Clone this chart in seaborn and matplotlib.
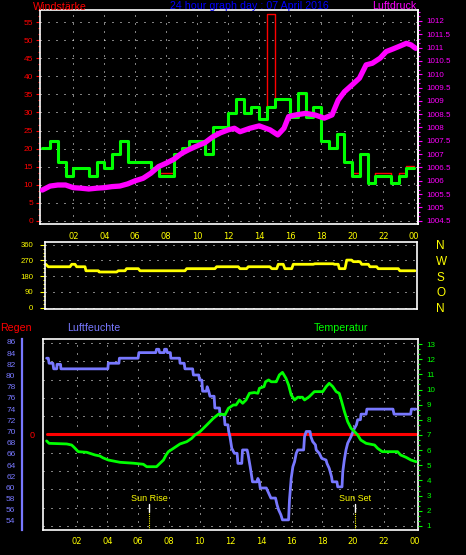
import numpy as np
import pandas as pd
import matplotlib
matplotlib.use("Agg")
import matplotlib.pyplot as plt
import seaborn as sns
from matplotlib.ticker import MultipleLocator, AutoMinorLocator, FixedLocator

# ---------------- data ----------------
hour_ticks = [2, 4, 6, 8, 10, 12, 14, 16, 18, 20, 22, 24]
hour_labels = ["02", "04", "06", "08", "10", "12", "14", "16", "18", "20", "22", "00"]

# wind speed, half-hour steps (last value repeated to close the final step)
wind_hours = [i * 0.5 for i in range(49)]
wind_avg = [20.2, 22.2, 16.3, 12.5, 14.5, 14.5, 12.5, 16.3, 14.5, 18.4,
            22.2, 16.3, 16.3, 16.3, 14.5, 12.5, 12.5, 18.4, 20.2, 22.2,
            22.2, 18.4, 26.0, 26.0, 29.8, 33.6, 29.8, 31.6, 28.1, 31.6,
            33.6, 33.6, 28.8, 35.5, 28.8, 31.6, 22.2, 20.2, 24.0, 16.3,
            12.5, 18.4, 10.5, 12.5, 12.5, 10.5, 12.5, 14.5, 14.5]
wind_gust = [20.2, 22.2, 16.3, 12.5, 14.5, 14.5, 12.5, 16.3, 14.5, 18.4,
             22.2, 16.3, 16.3, 16.3, 14.5, 13.2, 13.2, 18.4, 20.2, 22.2,
             22.2, 18.4, 26.0, 26.0, 29.8, 33.6, 29.8, 31.6, 28.1, 57.4,
             33.6, 33.6, 28.8, 35.2, 28.8, 31.6, 22.2, 20.2, 24.0, 16.3,
             13.1, 18.4, 10.5, 13.1, 13.1, 10.5, 13.1, 15.2, 15.2]

pres_hours = [0.0, 0.5, 1.0, 1.5, 2.0, 2.5, 3.0, 3.5, 4.0, 4.5, 5.0, 5.5, 6.0,
              6.5, 7.0, 7.5, 8.0, 8.5, 9.0, 9.5, 10.0, 10.5, 11.0, 11.5, 12.0,
              12.4, 12.76, 13.4, 14.0, 14.7, 15.2, 15.6, 15.9, 16.35, 17.0, 17.6,
              18.2, 18.7, 19.1, 19.5, 20.0, 20.47, 20.9, 21.3, 21.8, 22.2, 22.6,
              23.1, 23.5, 23.8, 24.1]
pres_hpa = [1005.65, 1005.80, 1005.84, 1005.84, 1005.74, 1005.72, 1005.69, 1005.72,
            1005.74, 1005.78, 1005.80, 1005.88, 1006.00, 1006.09, 1006.28, 1006.53,
            1006.66, 1006.81, 1007.03, 1007.18, 1007.31, 1007.43, 1007.65, 1007.80,
            1007.91, 1007.97, 1007.84, 1007.97, 1008.06, 1007.91, 1007.72, 1007.97,
            1008.41, 1008.47, 1008.53, 1008.47, 1008.35, 1008.47, 1009.03, 1009.34,
            1009.60, 1009.85, 1010.35, 1010.41, 1010.60, 1010.85, 1010.94, 1011.06,
            1011.16, 1011.10, 1010.97]
pres_ticks = [1004.5, 1005, 1005.5, 1006, 1006.5, 1007, 1007.5, 1008, 1008.5,
              1009, 1009.5, 1010, 1010.5, 1011, 1011.5, 1012]

dir_hours = [0.23, 0.38, 1.79, 1.9, 2.11, 2.22, 2.76, 2.82, 3.62, 3.68, 4.81, 4.91,
             5.35, 5.45, 6.21, 6.32, 9.23, 9.34, 11.17, 11.28, 12.68, 12.79, 13.22,
             13.33, 14.73, 14.85, 15.17, 15.27, 15.59, 15.7, 16.14, 16.24, 17.53,
             17.64, 18.83, 18.9, 19.15, 19.22, 19.59, 19.7, 20.02, 20.12, 20.56,
             20.67, 21.1, 21.2, 21.64, 21.74, 23.04, 23.14, 24.12]
dir_deg = [248, 234, 234, 248, 248, 234, 234, 211, 211, 204, 204, 211, 211, 223,
           223, 211, 211, 223, 223, 234, 234, 223, 223, 234, 234, 223, 223, 248,
           248, 223, 223, 248, 248, 251, 251, 248, 248, 223, 223, 272, 272, 263,
           263, 248, 248, 234, 234, 223, 223, 211, 211]
dir_ticks = [0, 90, 180, 270, 360]
compass_ticks = [360, 270, 180, 90, 0]
compass_labels = ["N", "W", "S", "O", "N"]

hum_hours = [0.04, 0.15, 0.2, 0.45, 0.5, 0.7, 0.72, 0.95, 0.97, 4.03, 4.06, 4.75,
             4.78, 6.0, 6.05, 7.15, 7.2, 7.35, 7.4, 7.7, 7.72, 7.85, 7.9, 8.1, 8.13,
             8.7, 8.73, 9.0, 9.05, 9.55, 9.6, 9.95, 10.0, 10.15, 10.2, 10.45, 10.5,
             10.6, 10.68, 10.95, 11.0, 11.3, 11.33, 11.6, 11.66, 11.85, 11.9, 11.98,
             12.1, 12.27, 12.45, 12.5, 12.75, 12.8, 13.1, 13.15, 13.3, 13.45, 13.75,
             13.8, 13.9, 13.95, 14.35, 14.45, 14.65, 14.95, 15.05, 15.15, 15.3, 15.4,
             15.8, 15.86, 15.97, 16.08, 16.19, 16.3, 16.4, 16.78, 16.84, 16.95, 17.2,
             17.25, 17.37, 17.55, 17.6, 17.8, 17.96, 18.24, 18.3, 18.45, 18.6, 18.65,
             18.95, 19.0, 19.28, 19.33, 19.43, 19.54, 19.65, 19.87, 20.04, 20.22,
             20.3, 20.48, 20.52, 20.85, 20.9, 22.6, 22.67, 23.75, 23.8, 24.1]
hum_pct = [83.1, 83.1, 82.2, 82.2, 81.2, 81.2, 82.0, 82.0, 81.2, 81.2, 82.2, 82.2,
           83.1, 83.1, 84.1, 84.1, 84.7, 84.7, 84.1, 84.1, 84.7, 84.7, 84.1, 84.1,
           83.1, 83.1, 82.2, 82.2, 81.2, 81.2, 80.1, 80.1, 79.2, 79.2, 77.2, 77.2,
           78.0, 77.2, 76.3, 76.3, 74.2, 74.2, 73.0, 73.0, 71.2, 71.2, 70.0, 69.1,
           67.0, 66.1, 66.1, 64.3, 64.3, 66.7, 66.7, 66.1, 63.7, 61.0, 61.0, 61.6,
           61.0, 59.9, 59.9, 59.3, 58.1, 58.1, 56.9, 56.0, 55.1, 54.2, 54.2, 57.8,
           61.6, 63.7, 64.6, 66.1, 66.7, 66.7, 69.1, 70.0, 70.0, 69.1, 68.2, 67.6,
           66.7, 66.1, 65.2, 64.9, 64.3, 63.4, 61.9, 61.0, 61.0, 60.1, 60.1, 62.8,
           64.9, 66.7, 67.9, 69.1, 70.3, 71.2, 72.1, 72.1, 73.1, 73.1, 74.0, 74.0,
           73.1, 73.1, 74.0, 74.0]
hum_ticks = [54, 56, 58, 60, 62, 64, 66, 68, 70, 72, 74, 76, 78, 80, 82, 84, 86]

temp_hours = [0.04, 0.2, 1.35, 1.67, 1.83, 2.1, 2.65, 3.2, 3.5, 3.7, 4.06, 4.82, 5.69,
              6.34, 6.56, 7.2, 7.38, 7.65, 7.82, 7.97, 8.3, 8.73, 9.17, 9.49, 9.7,
              10.03, 10.47, 10.9, 11.23, 11.45, 11.66, 11.88, 12.2, 12.38, 12.6, 12.81,
              13.03, 13.25, 13.57, 13.8, 13.9, 14.2, 14.3, 14.5, 14.67, 15.0, 15.2,
              15.4, 15.63, 15.8, 15.97, 16.19, 16.4, 16.7, 16.84, 17.15, 17.48, 18.03,
              18.25, 18.45, 18.68, 18.9, 19.1, 19.2, 19.44, 19.65, 19.87, 20.1, 20.3,
              20.5, 20.85, 21.4, 21.6, 21.9, 22.9, 23.1, 23.45, 23.77, 24.1]
temp_c = [6.61, 6.45, 6.41, 6.34, 6.19, 5.9, 5.86, 5.68, 5.62, 5.5, 5.35, 5.2, 5.14,
          5.07, 4.91, 4.91, 5.09, 5.35, 5.68, 5.9, 6.12, 6.41, 6.56, 6.78, 7.0, 7.22,
          7.66, 8.1, 8.37, 8.37, 8.33, 8.76, 8.98, 8.98, 9.31, 9.09, 9.31, 9.75, 9.8,
          9.75, 10.08, 10.19, 10.51, 10.63, 10.51, 10.51, 10.96, 11.13, 10.74, 10.3,
          9.64, 9.31, 9.49, 9.49, 9.31, 9.53, 9.86, 9.86, 10.19, 10.41, 10.19, 9.86,
          9.75, 9.42, 8.54, 7.88, 7.44, 7.22, 7.0, 6.67, 6.45, 6.34, 6.12, 5.9, 5.9,
          5.68, 5.53, 5.35, 5.24]
temp_ticks = [1, 2, 3, 4, 5, 6, 7, 8, 9, 10, 11, 12, 13]

rain_hours = [0.04, 24.1]
rain_mm = [0.0, 0.0]

sun_rise = 6.73
sun_set = 20.15

# ---------------- style ----------------
RED = "#ff0000"
GREEN = "#00ff00"
MAG = "#ff00ff"
BLUE = "#0000ff"
YEL = "#ffff00"
HUM = "#7878ff"
WHITE = "#ffffff"
DOT = (0, (1, 7))

sns.set_style("dark")
plt.rcParams["font.family"] = ["Liberation Sans", "DejaVu Sans"]
plt.rcParams["axes.unicode_minus"] = False

W, H = 466, 555
fig = plt.figure(figsize=(W / 100, H / 100), dpi=100, facecolor="black")


def px_axes(x0, y0, x1, y1):
    return fig.add_axes([x0 / W, 1 - y1 / H, (x1 - x0) / W, (y1 - y0) / H])


def line(ax, x, y, color, lw, **kw):
    sns.lineplot(x=x, y=y, ax=ax, color=color, linewidth=lw, estimator=None,
                 sort=False, legend=False, **kw)
    ax.set_xlabel("")
    ax.set_ylabel("")


def frame(ax, visible=("left", "right", "top", "bottom"), color=WHITE, lw=1.2):
    for name, sp in ax.spines.items():
        sp.set_visible(name in visible)
        sp.set_color(color)
        sp.set_linewidth(lw)


# ================= panel 1: wind speed + pressure =================
ax1 = px_axes(40, 10, 418, 224)
ax1.set_facecolor("black")
line(ax1, wind_hours, wind_gust, RED, 1.0, drawstyle="steps-post")
line(ax1, wind_hours, wind_avg, GREEN, 2.2, drawstyle="steps-post")
ax1.set_xlim(-0.15, 24.25)
ax1.set_ylim(-0.915, 58.41)
ax1.yaxis.set_major_locator(MultipleLocator(5))
ax1.yaxis.set_minor_locator(AutoMinorLocator(3))
ax1.set_xticks(hour_ticks)
ax1.set_xticklabels(hour_labels)
ax1.xaxis.set_minor_locator(FixedLocator([h - 1.5 for h in hour_ticks]))
ax1.tick_params(axis="y", which="both", colors=RED, direction="out")
ax1.tick_params(axis="y", which="major", length=3, width=0.8, pad=2, labelsize=6)
ax1.tick_params(axis="y", which="minor", length=1.5, width=0.8)
ax1.tick_params(axis="x", which="major", length=0, pad=6, labelcolor=YEL,
                labelsize=6, labelfontfamily="DejaVu Sans")
ax1.tick_params(axis="x", which="minor", length=2, color=WHITE, width=0.8)
ax1.grid(True, which="major", color=WHITE, linestyle=DOT, linewidth=0.72)
frame(ax1)

ax1r = ax1.twinx()
line(ax1r, pres_hours, pres_hpa, MAG, 3.8)
ax1r.set_ylim(1004.376, 1012.41)
ax1r.set_yticks(pres_ticks)
ax1r.set_yticklabels([f"{t:g}" for t in pres_ticks])
ax1r.yaxis.set_minor_locator(AutoMinorLocator(3))
ax1r.tick_params(axis="y", which="both", colors=MAG, direction="out")
ax1r.tick_params(axis="y", which="major", length=3, width=0.8, pad=3, labelsize=5.8)
ax1r.tick_params(axis="y", which="minor", length=1.5, width=0.8)
ax1r.grid(False)
frame(ax1r, visible=("right",))

# ================= panel 2: wind direction =================
ax2 = px_axes(45, 241.7, 416.7, 309.3)
ax2.set_facecolor("black")
line(ax2, dir_hours, dir_deg, YEL, 2.0)
ax2.set_xlim(0.17, 24.23)
ax2.set_ylim(-9.1, 377)
ax2.set_yticks(dir_ticks)
ax2.yaxis.set_minor_locator(AutoMinorLocator(4))
ax2.set_xticks([])
ax2.tick_params(axis="y", which="both", colors=YEL, direction="out")
ax2.tick_params(axis="y", which="major", length=3.5, width=0.8, pad=5, labelsize=5.6)
ax2.tick_params(axis="y", which="minor", length=1.5, width=0.8)
ax2.grid(True, axis="y", which="major", color=WHITE, linestyle=DOT, linewidth=0.72)
ax2.grid(False, axis="x")
frame(ax2)

ax2r = ax2.twinx()
ax2r.set_ylim(-9.1, 377)
ax2r.set_yticks(compass_ticks)
ax2r.set_yticklabels(compass_labels)
ax2r.tick_params(axis="y", length=0, pad=14, labelcolor=YEL, labelsize=8.5)
ax2r.grid(False)
frame(ax2r, visible=())

# ================= panel 3: rain / humidity / temperature =================
X3 = (-0.195, 24.23)
ax3 = px_axes(43, 339.3, 418, 530)
ax3.set_facecolor("black")
line(ax3, rain_hours, rain_mm, RED, 2.2)
ax3.set_xlim(*X3)
ax3.set_ylim(-5.22, 5.2)
ax3.set_yticks([0])
ax3.yaxis.set_minor_locator(MultipleLocator(1))
ax3.tick_params(axis="y", which="major", colors=RED, length=3, width=0.8, pad=3,
                labelsize=6.5)
ax3.tick_params(axis="y", which="minor", length=0)
ax3.set_xticks(hour_ticks)
ax3.set_xticklabels(hour_labels)
ax3.xaxis.set_minor_locator(FixedLocator([h - 1.5 for h in hour_ticks]))
ax3.tick_params(axis="x", which="major", length=0, pad=5, labelcolor=YEL,
                labelsize=6, labelfontfamily="DejaVu Sans")
ax3.tick_params(axis="x", which="minor", length=2, color=WHITE, width=0.8)
ax3.grid(True, axis="y", which="minor", color=WHITE, linestyle=DOT, linewidth=0.72)
ax3.grid(True, axis="x", which="major", color=WHITE, linestyle=DOT, linewidth=0.72)
ax3.grid(False, axis="y", which="major")
frame(ax3)

# sunrise / sunset markers
xt = ax3.get_xaxis_transform()
for hour, label in ((sun_rise, "Sun Rise"), (sun_set, "Sun Set")):
    ax3.axvline(hour, ymin=0.097, ymax=0.137, color=WHITE, linewidth=1.0)
    ax3.axvline(hour, ymin=0.0, ymax=0.097, color=YEL, linewidth=0.8,
                linestyle=(0, (1, 1)))
    ax3.text(hour, 0.152, label, transform=xt, ha="center", va="baseline",
             color=YEL, fontsize=6.5)

ax3h = px_axes(43, 339.3, 418, 530)
ax3h.patch.set_visible(False)
line(ax3h, hum_hours, hum_pct, HUM, 2.0)
ax3h.set_xlim(*X3)
ax3h.set_ylim(52.39, 86.48)
ax3h.set_yticks(hum_ticks)
ax3h.yaxis.set_minor_locator(AutoMinorLocator(4))
ax3h.set_xticks([])
ax3h.tick_params(axis="y", which="both", colors=HUM, direction="out")
ax3h.tick_params(axis="y", which="major", length=2.5, width=0.8, pad=2, labelsize=6)
ax3h.tick_params(axis="y", which="minor", length=1.5, width=0.8)
ax3h.grid(False)
frame(ax3h, visible=("left",), color=HUM, lw=1.6)
ax3h.spines["left"].set_position(("outward", (43 - 21.7) * 0.72))

ax3t = px_axes(43, 339.3, 418, 530)
ax3t.patch.set_visible(False)
line(ax3t, temp_hours, temp_c, GREEN, 2.0)
ax3t.set_xlim(*X3)
ax3t.set_ylim(0.736, 13.31)
ax3t.yaxis.tick_right()
ax3t.set_yticks(temp_ticks)
ax3t.yaxis.set_minor_locator(AutoMinorLocator(3))
ax3t.set_xticks([])
ax3t.tick_params(axis="y", which="both", colors=GREEN, direction="out")
ax3t.tick_params(axis="y", which="major", length=3, width=0.8, pad=3, labelsize=5.8)
ax3t.tick_params(axis="y", which="minor", length=1.5, width=0.8)
ax3t.grid(False)
frame(ax3t, visible=())

# ---------------- titles ----------------
TS = 7.7
fig.text(33 / W, 1 - 10 / H, "Windstärke", color=RED, fontsize=TS, va="baseline")
fig.text(249.7 / W, 1 - 9.3 / H, "24 hour graph day : 07 April 2016", color=BLUE,
         fontsize=TS, ha="center", va="baseline")
fig.text(416 / W, 1 - 9.3 / H, "Luftdruck", color=MAG, fontsize=TS, ha="right",
         va="baseline")
fig.text(0 / W, 1 - 330.7 / H, "Regen", color=RED, fontsize=TS, va="baseline")
fig.text(67 / W, 1 - 330.7 / H, "Luftfeuchte", color=HUM, fontsize=TS, va="baseline")
fig.text(313.3 / W, 1 - 331 / H, "Temperatur", color=GREEN, fontsize=TS, va="baseline")

fig.savefig("out.png", dpi=100, facecolor="black")
